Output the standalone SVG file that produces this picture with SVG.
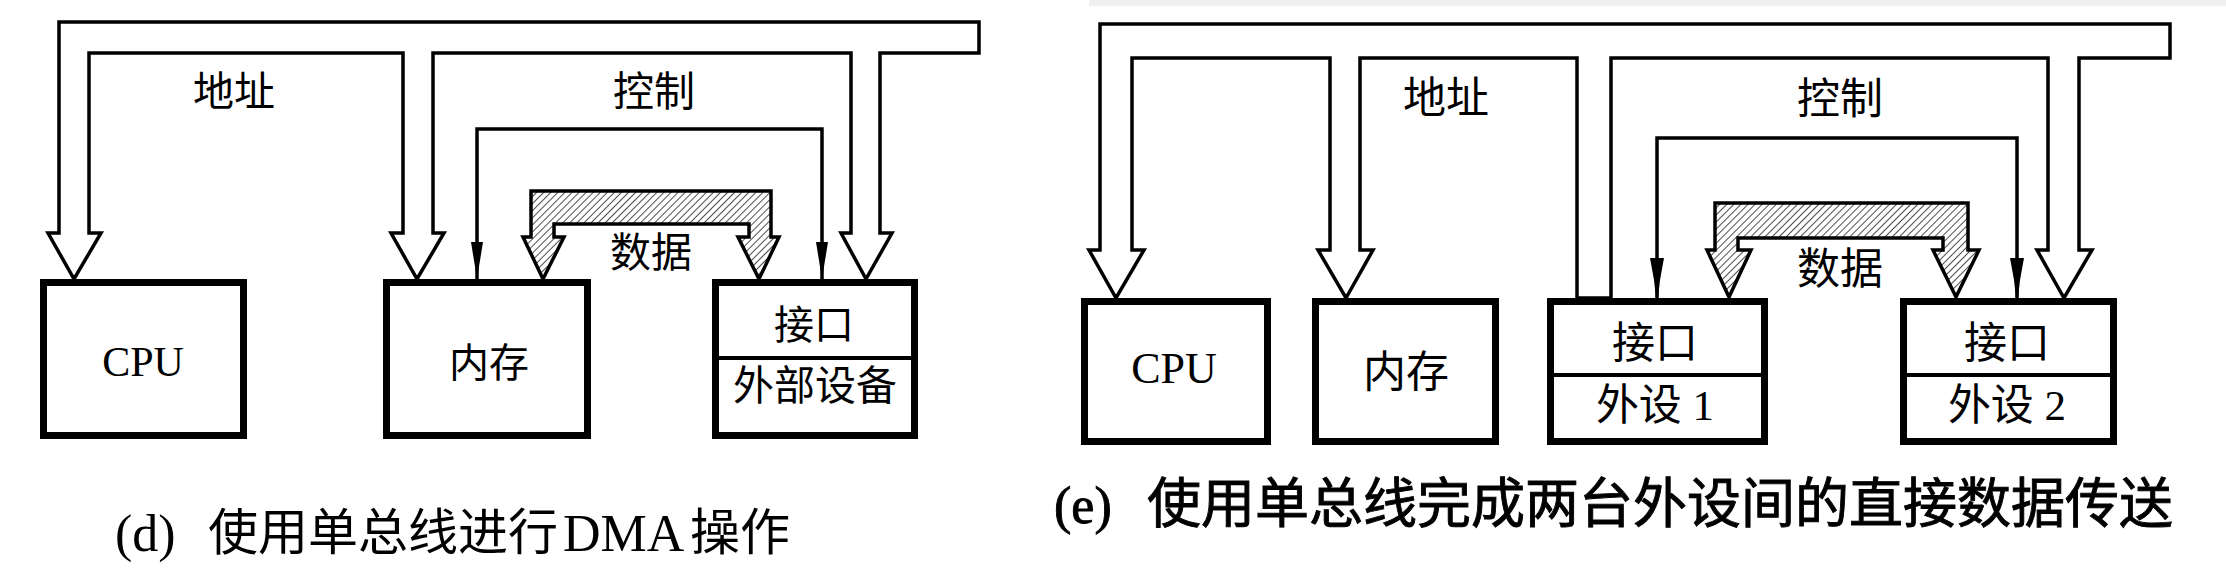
<svg xmlns="http://www.w3.org/2000/svg" width="2226" height="573" viewBox="0 0 2226 573">
<style>
.bus{fill:#fff;stroke:#000;stroke-width:3.5;stroke-linejoin:miter}
.hbus{fill:url(#hatch);stroke:#000;stroke-width:3.5;stroke-linejoin:miter}
.ctl{fill:none;stroke:#000;stroke-width:3.5}
.ah{fill:#000;stroke:none}
.box{fill:#fff;stroke:#000;stroke-width:7}
.div{stroke:#000;stroke-width:4}
.t{font-family:"Liberation Serif","Noto Sans CJK SC",serif;fill:#000;text-anchor:middle;dominant-baseline:central}
.cap{font-family:"Liberation Serif","Noto Sans CJK SC",serif;fill:#000;dominant-baseline:central}
</style>
<defs>
<pattern id="hatch" width="5" height="5" patternUnits="userSpaceOnUse" patternTransform="rotate(45)">
<rect width="5" height="5" fill="#fff"/>
<line x1="0" y1="0" x2="0" y2="5" stroke="#000" stroke-width="1.4"/>
</pattern>
</defs>
<rect x="1089" y="0" width="1137" height="6" fill="#f0f0f0"/>

<g id="connectors">
<path class="bus" d="M59,233 V22 H979 V53 H880 V233 H892 L866,279 L841,233 H851 V53 H433 V233 H444 L417,279 L391,233 H403 V53 H89 V233 H101 L74,279 L48,233 Z"/>
<path class="ctl" d="M477,279 V129 H822 V279"/>
<polygon class="ah" points="471,242 483,242 477,279"/>
<polygon class="ah" points="816,242 828,242 822,279"/>
<path class="hbus" d="M531,237 V191 H771 V237 H779 L759,279 L738,237 H749 V224 H554 V237 H564 L543,279 L523,237 Z"/>

<path class="bus" d="M1100,250 V24 H2170 V58 H2079 V250 H2092 L2064,298 L2037,250 H2048 V58 H1611 V298 H1577 V58 H1360 V250 H1373 L1346,298 L1318,250 H1330 V58 H1132 V250 H1144 L1116,298 L1089,250 Z"/>
<path class="ctl" d="M1657,298 V138 H2017 V298"/>
<polygon class="ah" points="1650,258 1664,258 1660,280 1658,298 1656,298 1654,280"/>
<polygon class="ah" points="2010,258 2024,258 2020,280 2018,298 2016,298 2014,280"/>
<path class="hbus" d="M1715,250 V203 H1968 V250 H1979 L1956,297 L1933,250 H1943 V238 H1738 V250 H1751 L1729,297 L1707,250 Z"/>
</g>

<g id="labels">
<text class="t" x="234" y="92" font-size="41">地址</text>
<text class="t" x="654" y="92" font-size="41">控制</text>
<text class="t" x="651" y="253" font-size="41">数据</text>
<text class="t" x="1446" y="98" font-size="43">地址</text>
<text class="t" x="1840" y="99" font-size="43">控制</text>
<text class="t" x="1840" y="269" font-size="43">数据</text>
</g>

<g id="d-cpu">
<rect class="box" x="43.5" y="282.5" width="200" height="153"/>
<text class="t" x="143" y="362" font-size="42">CPU</text>
</g>
<g id="d-mem">
<rect class="box" x="386.5" y="282.5" width="201" height="153"/>
<text class="t" x="489" y="363" font-size="40">内存</text>
</g>
<g id="d-io">
<rect class="box" x="715.5" y="282.5" width="199" height="153"/>
<line class="div" x1="712" y1="358" x2="918" y2="358"/>
<text class="t" x="814" y="325" font-size="40">接口</text>
<text class="t" x="815" y="386" font-size="41">外部设备</text>
</g>

<g id="e-cpu">
<rect class="box" x="1084.5" y="301.5" width="183" height="140"/>
<text class="t" x="1174" y="368" font-size="44">CPU</text>
</g>
<g id="e-mem">
<rect class="box" x="1315.5" y="301.5" width="180" height="140"/>
<text class="t" x="1406" y="372" font-size="43">内存</text>
</g>
<g id="e-io1">
<rect class="box" x="1550.5" y="301.5" width="214" height="140"/>
<line class="div" x1="1547" y1="375" x2="1768" y2="375"/>
<text class="t" x="1655" y="343" font-size="43">接口</text>
<text class="t" x="1655" y="405" font-size="43">外设 1</text>
</g>
<g id="e-io2">
<rect class="box" x="1903.5" y="301.5" width="210" height="140"/>
<line class="div" x1="1900" y1="375" x2="2117" y2="375"/>
<text class="t" x="2007" y="343" font-size="43">接口</text>
<text class="t" x="2007" y="405" font-size="43">外设 2</text>
</g>

<g id="captions">
<text class="cap" y="533" font-size="52"><tspan x="115">(d)</tspan><tspan x="208" font-size="50">使用单总线进行</tspan><tspan x="563">DMA</tspan><tspan x="690" font-size="50">操作</tspan></text>
<text class="cap" y="505" font-size="52" stroke="#000" stroke-width="0.9"><tspan x="1054">(e)</tspan><tspan x="1147" font-size="54">使用单总线完成两台外设间的直接数据传送</tspan></text>
</g>
</svg>
